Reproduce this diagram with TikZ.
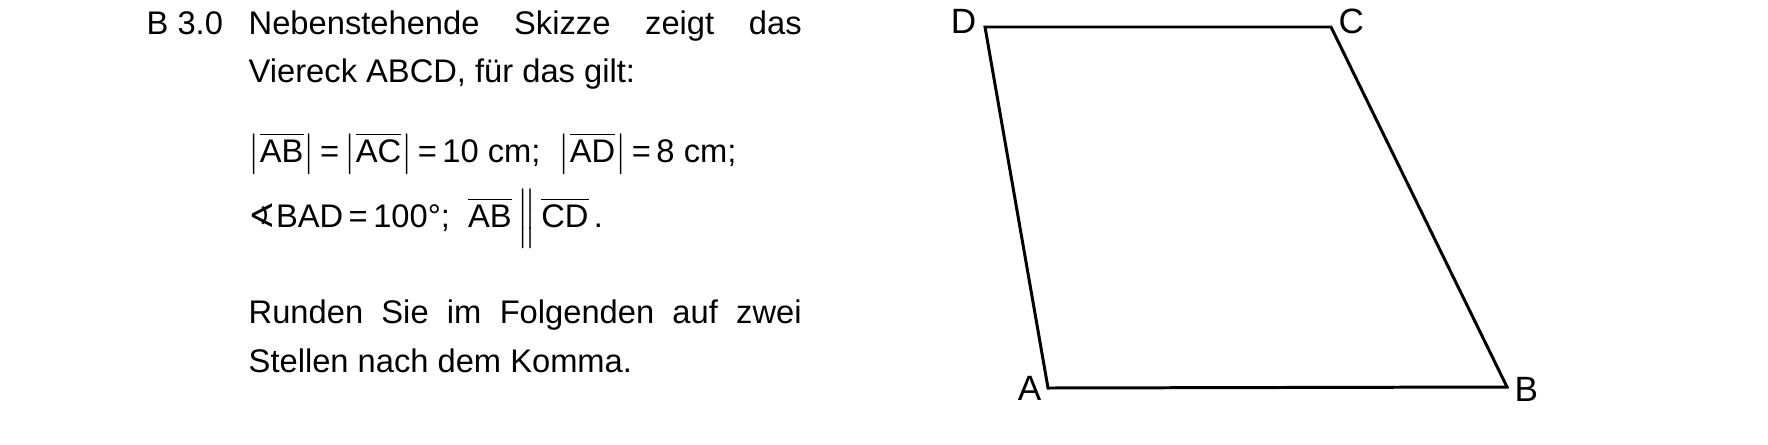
\documentclass[tikz,border=0pt]{standalone}
\usepackage{amsmath,amssymb}
\usepackage{fontspec}
\setmainfont{Liberation Sans}
\newfontfamily\dejavu{DejaVu Sans}
\usepackage{tikz}

\tikzset{txt/.style={anchor=base west, inner sep=0pt, font=\fontsize{9.3}{11}\selectfont},
	pt/.style={inner sep=0pt, font=\fontsize{10}{12}\selectfont}}
\newcommand{\strecke}[1]{$\overline{\text{#1}}$}
\newcommand{\betrag}[1]{$\bigl|\overline{\text{#1}}\bigr|$}

\begin{document}
\begin{tikzpicture}
	\useasboundingbox (0,0) rectangle (17.68,4.44);
%text
	\node[txt] (nr) at (1.46,4.10) {B 3.0};
	\node[txt] (z1) at (2.48,4.10) {\makebox[5.53cm][s]{Nebenstehende Skizze zeigt das}};
	\node[txt] (z2) at (2.48,3.62) {Viereck ABCD, für das gilt:};
	\node[txt] (z3) at (2.48,2.82) {\betrag{AB}\,=\,\betrag{AC}\,=\,10 cm;\ \ \betrag{AD}\,=\,8 cm;};
	\node[txt] (z4) at (2.48,2.17) {{\dejavu ∢}BAD\,=\,100°;\ \ \strecke{AB}\,$\Big\|$\,\strecke{CD}\,.};
	\node[txt] (z5) at (2.48,1.21) {\makebox[5.53cm][s]{Runden Sie im Folgenden auf zwei}};
	\node[txt] (z6) at (2.48,0.72) {Stellen nach dem Komma.};
%quadrilateral
	\coordinate (A) at (10.48,0.56);
	\coordinate (B) at (15.07,0.57);
	\coordinate (C) at (13.31,4.17);
	\coordinate (D) at (9.85,4.17);
	\draw[line width=0.85pt, line join=miter] (A) -- (B) -- (C) -- (D) -- cycle;
	\node[pt, anchor=base east] (lA) at (10.42,0.44) {A};
	\node[pt, anchor=base west] (lB) at (15.14,0.43) {B};
	\node[pt, anchor=base west] (lC) at (13.38,4.11) {C};
	\node[pt, anchor=base east] (lD) at (9.77,4.11) {D};
\end{tikzpicture}
\end{document}
